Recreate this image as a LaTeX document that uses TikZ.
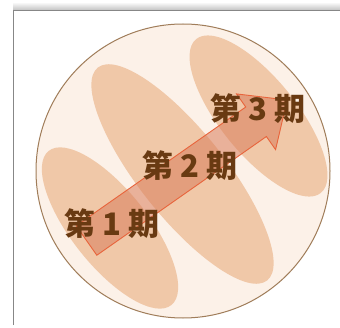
\documentclass[tikz,border=0pt]{standalone}
\usepackage{fontspec}
\newfontfamily\cjk{Noto Sans CJK JP}
\definecolor{bgcirc}{RGB}{252,241,232}
\definecolor{circline}{RGB}{160,125,90}
\definecolor{ellfill}{RGB}{240,200,168}
\definecolor{arrfill}{RGB}{218,125,90}
\definecolor{arrline}{RGB}{232,100,60}
\definecolor{txt}{RGB}{105,58,18}
\definecolor{frame}{RGB}{135,135,135}
\tikzset{
  ell/.style={fill=ellfill, draw=none},
  lbl/.style={text=txt, font=\cjk\bfseries\fontsize{31}{31}\selectfont, inner sep=0pt},
}
\begin{document}
\begin{tikzpicture}[x=1pt,y=1pt]
\useasboundingbox (0,0) rectangle (340,327);
\fill[white] (0,0) rectangle (340,327);
% frame shadow and lines
\shade[top color=white, bottom color=black!25] (13,316.5) rectangle (340,325);
\draw[frame, line width=1.5pt] (13.7,2) -- (13.7,316.5) -- (340,316.5);
% circle
\draw[fill=bgcirc, draw=circline, line width=1pt] (183,156) circle (147);
\begin{scope}
\clip (183,156) circle (146.5);
\fill[ell, rotate around={-51.5:(110,99)}] (110,99) ellipse (98.5 and 38);
\fill[ell, rotate around={-51.5:(182.5,153)}] (182.5,153) ellipse (136 and 43);
\fill[ell, rotate around={-51:(258.5,211)}] (258.5,211) ellipse (99 and 38);
\end{scope}
% arrow
\begin{scope}[shift={(86.5,86.5)}, rotate=35]
\draw[fill=arrfill, fill opacity=0.55, draw=arrline, line width=0.9pt, line join=miter]
  (0,18) -- (207,18) -- (207,34) -- (245,0) -- (207,-34) -- (207,-18) -- (0,-18) -- cycle;
\end{scope}
% labels
\node[lbl] (p1) at (112,103) {第 1 期};
\node[lbl] (p2) at (190,161) {第 2 期};
\node[lbl] (p3) at (258,218) {第 3 期};
\end{tikzpicture}
\end{document}
